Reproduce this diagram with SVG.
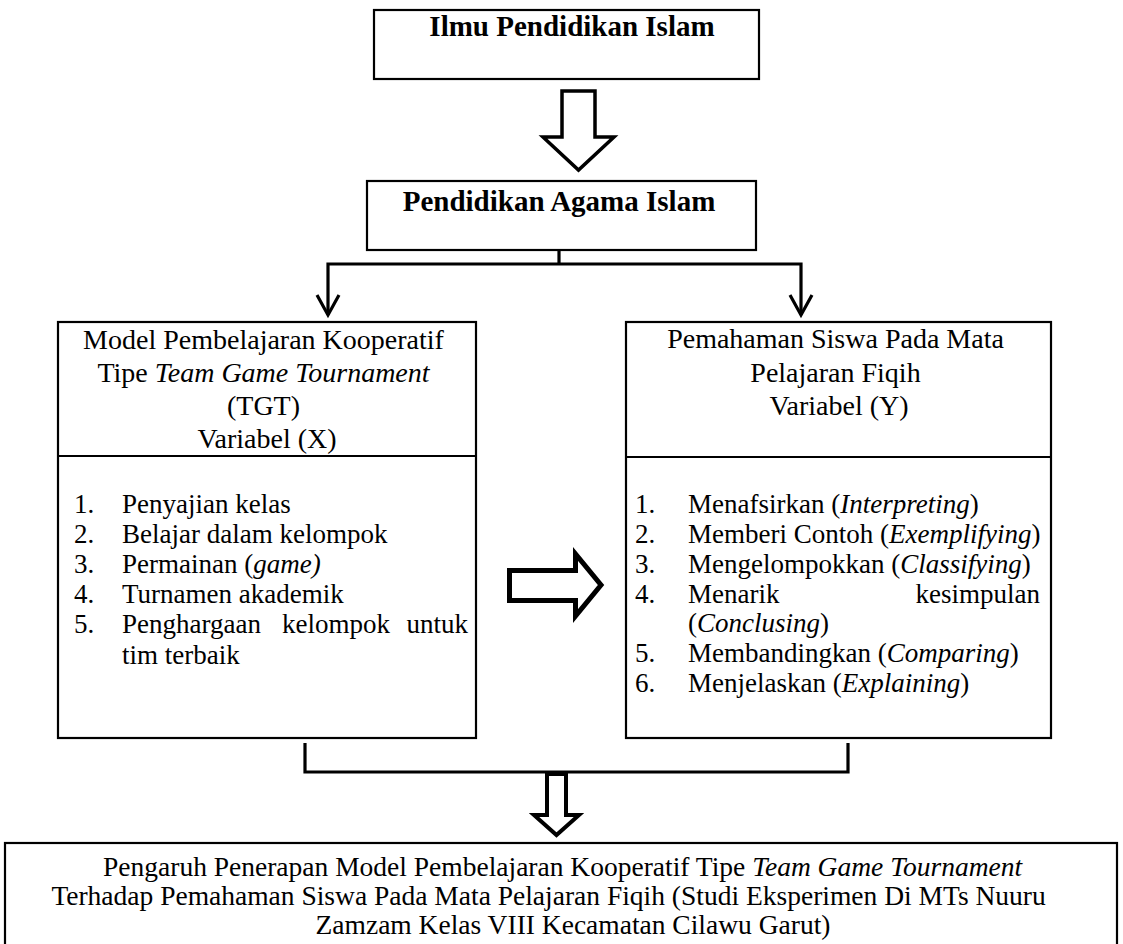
<svg xmlns="http://www.w3.org/2000/svg" width="1123" height="944" viewBox="0 0 1123 944">
<style>
  .box{fill:#fff;stroke:#000;stroke-width:2.2}
  .t{font-family:"Liberation Serif","Times New Roman",serif;fill:#000}
  .b{font-weight:bold;font-size:29px}
  .h{font-size:28px}
  .l{font-size:27px}
  .f{font-size:27.5px}
  .i{font-style:italic}
  .con{fill:none;stroke:#000;stroke-width:3.2}
  .hol{fill:#fff;stroke:#000;stroke-linejoin:miter}
</style>
<rect width="1123" height="944" fill="#fff"/>

<g id="node-ilmu">
  <rect class="box" x="374" y="10" width="385" height="69"/>
  <text class="t b" x="572" y="36" text-anchor="middle">Ilmu Pendidikan Islam</text>
</g>

<g id="node-pai">
  <rect class="box" x="367" y="181" width="389" height="69"/>
  <text class="t b" x="559" y="211" text-anchor="middle">Pendidikan Agama Islam</text>
</g>

<g id="node-x">
  <rect class="box" x="58" y="322" width="418" height="416"/>
  <line x1="58" y1="456" x2="476" y2="456" stroke="#000" stroke-width="2.2"/>
  <text class="t h" text-anchor="middle">
    <tspan x="267" y="349">Model Pembelajaran Kooperatif</tspan>
    <tspan x="267" y="382">Tipe <tspan class="i">Team Game Tournament</tspan></tspan>
    <tspan x="267" y="415">(TGT)</tspan>
    <tspan x="267" y="448">Variabel (X)</tspan>
  </text>
  <g class="t l">
    <text x="74" y="513">1.</text><text x="122" y="513">Penyajian kelas</text>
    <text x="74" y="543">2.</text><text x="122" y="543">Belajar dalam kelompok</text>
    <text x="74" y="573">3.</text><text x="122" y="573">Permainan (<tspan class="i">game)</tspan></text>
    <text x="74" y="603">4.</text><text x="122" y="603">Turnamen akademik</text>
    <text x="74" y="633">5.</text><text x="122" y="633">Penghargaan</text><text x="282" y="633">kelompok</text><text x="468" y="633" text-anchor="end">untuk</text>
    <text x="122" y="664">tim terbaik</text>
  </g>
</g>

<g id="node-y">
  <rect class="box" x="626" y="322" width="425" height="416"/>
  <line x1="626" y1="457" x2="1051" y2="457" stroke="#000" stroke-width="2.2"/>
  <text class="t h" text-anchor="middle">
    <tspan x="839" y="348">Pemahaman Siswa Pada Mata</tspan>
    <tspan x="839" y="382">Pelajaran Fiqih</tspan>
    <tspan x="839" y="415">Variabel (Y)</tspan>
  </text>
  <g class="t l">
    <text x="635" y="513">1.</text><text x="688" y="513">Menafsirkan (<tspan class="i">Interpreting</tspan>)</text>
    <text x="635" y="543">2.</text><text x="688" y="543">Memberi Contoh (<tspan class="i">Exemplifying</tspan>)</text>
    <text x="635" y="573">3.</text><text x="688" y="573">Mengelompokkan (<tspan class="i">Classifying</tspan>)</text>
    <text x="635" y="603">4.</text><text x="688" y="603">Menarik</text><text x="1040" y="603" text-anchor="end">kesimpulan</text>
    <text x="688" y="632">(<tspan class="i">Conclusing</tspan>)</text>
    <text x="635" y="662">5.</text><text x="688" y="662">Membandingkan (<tspan class="i">Comparing</tspan>)</text>
    <text x="635" y="692">6.</text><text x="688" y="692">Menjelaskan (<tspan class="i">Explaining</tspan>)</text>
  </g>
</g>

<g id="node-result">
  <rect class="box" x="5" y="843" width="1112" height="110"/>
  <text class="t f" text-anchor="middle">
    <tspan x="566" y="876">Pengaruh Penerapan Model Pembelajaran Kooperatif Tipe <tspan class="i">Team Game Tournament</tspan></tspan>
    <tspan x="552" y="905">Terhadap Pemahaman Siswa Pada Mata Pelajaran Fiqih (Studi Eksperimen Di MTs Nuuru</tspan>
    <tspan x="573" y="934">Zamzam Kelas VIII Kecamatan Cilawu Garut)</tspan>
  </text>
</g>

<g id="connectors">
  <polygon class="hol" stroke-width="3.5" points="562,91 595,91 595,137 614,137 578.5,170 543,137 562,137"/>
  <polyline class="con" points="559,250 559,264"/>
  <polyline class="con" points="328,315 328,264 801,264 801,315"/>
  <polyline class="con" points="317,295 328,315 339,295"/>
  <polyline class="con" points="790,295 801,315 812,295"/>
  <polygon class="hol" stroke-width="5" points="509.5,570.5 575.5,570.5 575.5,554 601,585 575.5,616 575.5,600.5 509.5,600.5"/>
  <polyline class="con" points="305,743 305,772 848,772 848,743"/>
  <polygon class="hol" stroke-width="4" points="547,774 566,774 566,815 579,815 556.5,835 534,815 547,815"/>
</g>
</svg>
